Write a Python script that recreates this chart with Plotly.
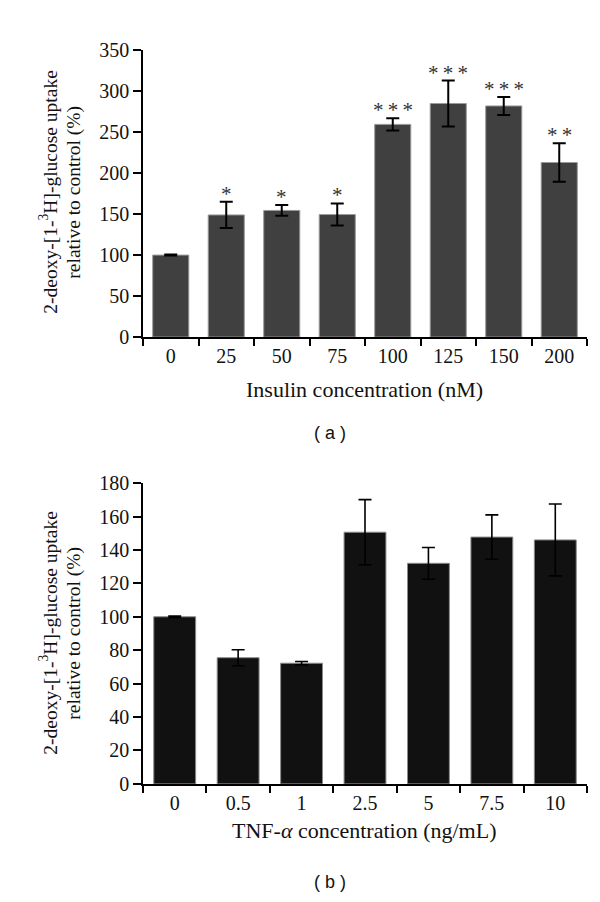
import plotly.graph_objects as go

# ---- Panel (a): insulin ----
ins_cats = ["0", "25", "50", "75", "100", "125", "150", "200"]
ins_vals = [100, 149, 154.5, 149.5, 259.5, 285, 282, 213]
ins_err = [0.6, 16, 6.5, 13.5, 7.5, 28, 11, 23.5]
ins_stars = ["", "*", "*", "*", "*\u2009*\u2009*", "*\u2009*\u2009*", "*\u2009*\u2009*", "*\u2009*"]
ins_yticks = [0, 50, 100, 150, 200, 250, 300, 350]

# ---- Panel (b): TNF-alpha ----
tnf_cats = ["0", "0.5", "1", "2.5", "5", "7.5", "10"]
tnf_vals = [100, 75.5, 72.2, 150.6, 132, 147.7, 146]
tnf_err = [0.4, 4.8, 1.0, 19.5, 9.5, 13.3, 21.5]
tnf_yticks = [0, 20, 40, 60, 80, 100, 120, 140, 160, 180]

SERIF = "Liberation Serif, Times New Roman, serif"
SANS = "Liberation Sans, Arial, sans-serif"
FS = 20

fig = go.Figure()

fig.add_trace(go.Bar(
    x=ins_cats, y=ins_vals, width=0.65,
    marker=dict(color="#404040", line=dict(color="#9a9a9a", width=1)),
    error_y=dict(type="data", array=ins_err, visible=True, color="#000000", thickness=2, width=6.5),
    xaxis="x", yaxis="y", showlegend=False,
))
fig.add_trace(go.Bar(
    x=tnf_cats, y=tnf_vals, width=0.66,
    marker=dict(color="#111111", line=dict(color="#8a8a8a", width=1)),
    error_y=dict(type="data", array=tnf_err, visible=True, color="#000000", thickness=1.6, width=6.5),
    xaxis="x2", yaxis="y2", showlegend=False,
))

# significance stars (category index positions)
for i, (v, e, s) in enumerate(zip(ins_vals, ins_err, ins_stars)):
    if s:
        fig.add_annotation(x=i, y=v + e, xref="x", yref="y", text=s, showarrow=False,
                           yanchor="bottom", yshift=-6,
                           font=dict(family=SERIF, size=21, color="#333"))

xdom = [135 / 600, 579 / 600]
ya_dom = [1 - 326 / 902, 1 - 32 / 902]
yb_dom = [1 - 784 / 902, 1 - 475.7 / 902]

axis_common = dict(showline=True, linecolor="black", linewidth=1.5, ticks="outside",
                   tickcolor="black", tickwidth=1.5, showgrid=False, zeroline=False,
                   tickfont=dict(family=SERIF, size=FS, color="#111"))

fig.update_layout(
    width=600, height=902, margin=dict(l=0, r=0, t=0, b=0),
    paper_bgcolor="white", plot_bgcolor="white",
    xaxis=dict(domain=xdom, anchor="y", type="category", range=[-0.5, 7.5],
               tickson="boundaries", ticklen=7, **axis_common),
    yaxis=dict(domain=ya_dom, anchor="x", range=[0, 350], tickvals=ins_yticks,
               ticklen=8, ticksuffix="\u2009\u2009", **axis_common),
    xaxis2=dict(domain=xdom, anchor="y2", type="category", range=[-0.5, 6.5],
                tickson="boundaries", ticklen=7, **axis_common),
    yaxis2=dict(domain=yb_dom, anchor="x2", range=[0, 180], tickvals=tnf_yticks,
                ticklen=8, ticksuffix="\u2009\u2009", **axis_common),
    bargap=0.35,
)

ytitle_l1 = "2-deoxy-[1-<sup>3</sup>H]-glucose uptake"
ytitle_l2 = "relative to control (%)"
for yc in (178, 630):
    fig.add_annotation(text=ytitle_l1, xref="paper", yref="paper", x=40 / 600, y=1 - yc / 902,
                       textangle=-90, showarrow=False, xanchor="center", yanchor="middle",
                       font=dict(family=SERIF, size=19.5, color="#111"))
    fig.add_annotation(text=ytitle_l2, xref="paper", yref="paper", x=66 / 600, y=1 - yc / 902,
                       textangle=-90, showarrow=False, xanchor="center", yanchor="middle",
                       font=dict(family=SERIF, size=19.5, color="#111"))

fig.add_annotation(text="Insulin concentration (nM)", xref="paper", yref="paper",
                   x=356 / 600, y=1 - 380 / 902, showarrow=False, xanchor="center", yanchor="middle",
                   font=dict(family=SERIF, size=22, color="#111"))
fig.add_annotation(text="TNF-<i>α</i> concentration (ng/mL)", xref="paper", yref="paper",
                   x=356 / 600, y=1 - 832 / 902, showarrow=False, xanchor="center", yanchor="middle",
                   font=dict(family=SERIF, size=22, color="#111"))

fig.add_annotation(text="( a )", xref="paper", yref="paper", x=322 / 600, y=1 - 424 / 902,
                   showarrow=False, xanchor="center", yanchor="middle",
                   font=dict(family=SANS, size=18, color="#111"))
fig.add_annotation(text="( b )", xref="paper", yref="paper", x=322 / 600, y=1 - 885 / 902,
                   showarrow=False, xanchor="center", yanchor="middle",
                   font=dict(family=SANS, size=18, color="#111"))

fig.write_html("out.html")
